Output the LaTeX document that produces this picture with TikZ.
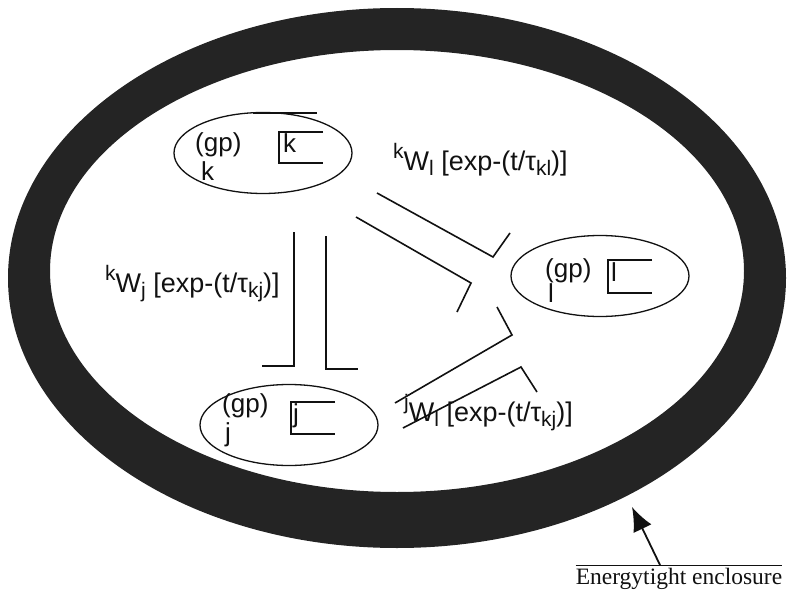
\documentclass[tikz,border=0pt]{standalone}
\usepackage{fontspec}
\setmainfont{Liberation Sans}
\newfontfamily\capfont{Liberation Serif}
\usepackage{tikz}
\usetikzlibrary{arrows.meta,shapes.geometric}
\definecolor{ink}{HTML}{111111}
\definecolor{shell}{HTML}{242424}
\newcommand{\sups}[1]{\raisebox{0.42em}{\fontsize{21}{24}\selectfont #1}}
\newcommand{\subs}[1]{\raisebox{-0.2em}{\fontsize{21}{24}\selectfont #1}}
\tikzset{
  gpcell/.style={ellipse, draw=ink, line width=1.3pt, minimum width=178pt, minimum height=81pt, inner sep=0pt},
  lab/.style ={font=\fontsize{26}{30}\selectfont, text=ink, inner sep=0pt, anchor=base west},
  wlab/.style={font=\fontsize{27}{30}\selectfont, text=ink, inner sep=0pt, anchor=base west},
  brk/.style ={draw=ink, line width=1.3pt},
  syn/.style ={draw=ink, line width=1.6pt},
  >=Latex,
}
\begin{document}
\begin{tikzpicture}[x=1pt,y=-1pt]
\useasboundingbox (0,0) rectangle (798,594);
% enclosure
\fill[shell, even odd rule] (397,278) ellipse [x radius=389pt, y radius=270pt]
  (397,271) ellipse [x radius=347pt, y radius=221pt];
% gp cells
\node[gpcell] (gpk) at (263,153) {};
\node[gpcell] (gpl) at (600,276) {};
\node[gpcell] (gpj) at (289,425) {};
\draw[brk] ([xshift=-10pt,yshift=-1pt]gpk.north) -- ++(64,0);
\node[lab] (gpkt) at (195,151) {(gp)};
\node[lab] (gpkb) at (201,180) {k};
\node[lab] (gplt) at (545,277) {(gp)};
\node[lab] (gplb) at (548,302) {l};
\node[lab] (gpjt) at (222,412) {(gp)};
\node[lab] (gpjb) at (225,441) {j};
% brackets
\node[lab] (kin) at (283,152) {k};
\node[lab] (lin) at (611,281) {l};
\node[lab] (jin) at (293,422) {j};
\draw[brk] (323,132) -- (279,132) -- (279,163) -- (323,163);
\draw[brk] (652,260) -- (608,260) -- (608,293) -- (652,293);
\draw[brk] (335,402) -- (291,402) -- (291,434) -- (335,434);
% pathways
\coordinate (kja1) at (294,232);
\coordinate (kja2) at (294,366);
\coordinate (kja3) at (262,366);
\coordinate (kjb1) at (326,236);
\coordinate (kjb2) at (326,369);
\coordinate (kjb3) at (358,369);
\coordinate (kla1) at (377,193);
\coordinate (kla2) at (493,257);
\coordinate (kla3) at (510,233);
\coordinate (klb1) at (356,217);
\coordinate (klb2) at (471,283);
\coordinate (klb3) at (457,312);
\coordinate (jla1) at (395,403);
\coordinate (jla2) at (512,335);
\coordinate (jla3) at (497,307);
\coordinate (jlb1) at (403,428);
\coordinate (jlb2) at (521,367);
\coordinate (jlb3) at (537,392);
\draw[syn] (kja1) -- (kja2) -- (kja3);
\draw[syn] (kjb1) -- (kjb2) -- (kjb3);
\draw[syn] (kla1) -- (kla2) -- (kla3);
\draw[syn] (klb1) -- (klb2) -- (klb3);
\draw[syn] (jla1) -- (jla2) -- (jla3);
\draw[syn] (jlb1) -- (jlb2) -- (jlb3);
% weights
\node[wlab] (wkl) at (393,170) {\sups{k}W\subs{l} [exp-(t/τ\subs{kl})]};
\node[wlab] (wkj) at (105,292) {\sups{k}W\subs{j} [exp-(t/τ\subs{kj})]};
\node[wlab] (wjl) at (404,421) {\sups{j}W\subs{l} [exp-(t/τ\subs{kj})]};
% enclosure label
\node[font=\capfont\fontsize{23.5}{28}\selectfont, text=ink, inner sep=0pt, anchor=base] (encl) at (679,584) {Energytight enclosure};
\draw[draw=ink, line width=1.3pt] ([yshift=2pt]encl.north west) -- ([yshift=2pt]encl.north east);
\coordinate (arrtail) at (660,565);
\coordinate (arrtip) at (632,507);
\draw[ink, line width=1.8pt, -{Latex[length=24pt,width=20pt]}] (arrtail) -- (arrtip);
\end{tikzpicture}
\end{document}
